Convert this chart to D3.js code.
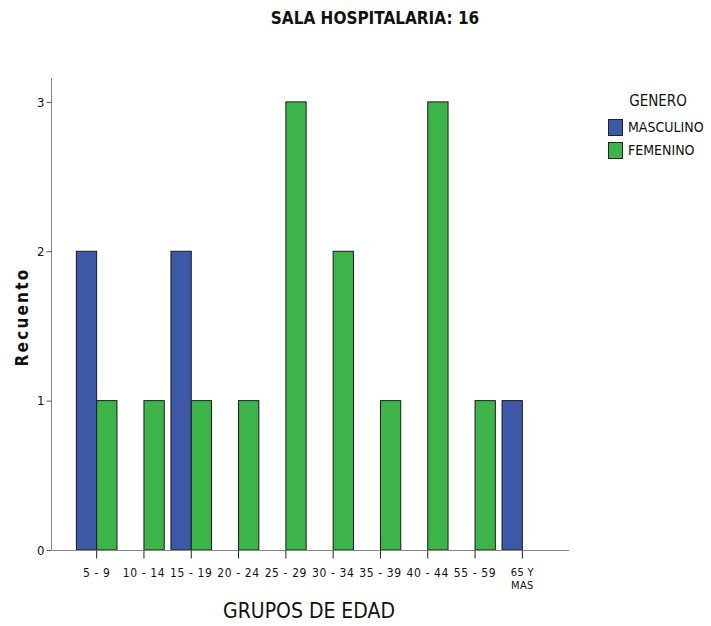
<!DOCTYPE html>
<html>
<head>
<meta charset="utf-8">
<script src="https://cdn.jsdelivr.net/npm/d3@7"></script>
<style>
  html, body { margin: 0; padding: 0; background: #fff; }
  svg { display: block; }
  text { font-family: "DejaVu Sans Condensed", "DejaVu Sans", sans-serif; fill: #111; }
</style>
</head>
<body>
<svg id="chart" width="711" height="626"></svg>
<script>
// Age groups and counts by gender
const categories = ["5 - 9", "10 - 14", "15 - 19", "20 - 24", "25 - 29", "30 - 34", "35 - 39", "40 - 44", "55 - 59", "65 Y MAS"];
const masculino = [2, 0, 2, 0, 0, 0, 0, 0, 0, 1];
const femenino  = [1, 1, 1, 1, 3, 2, 1, 3, 1, 0];
const seriesNames = ["MASCULINO", "FEMENINO"];
const seriesColors = ["#3e58a8", "#3cb44a"];
const yTicks = [0, 1, 2, 3];

const svg = d3.select("#chart");

const x = d3.scaleBand().domain(categories).range([73, 546]).padding(0);
const y = d3.scaleLinear().domain([0, 3.16]).range([550, 78]);
const barW = 20.3;

// Bars: masculino to the left of the category centre, femenino to the right
const rows = categories.map((c, i) => ({ c, m: masculino[i], f: femenino[i] }));
const g = svg.append("g");
rows.forEach(r => {
  const cx = x(r.c) + x.bandwidth() / 2;
  if (r.m > 0) {
    g.append("rect")
      .attr("x", cx - barW).attr("y", y(r.m))
      .attr("width", barW).attr("height", y(0) - y(r.m))
      .attr("fill", seriesColors[0]).attr("stroke", "#1a1a1a").attr("stroke-width", 1);
  }
  if (r.f > 0) {
    g.append("rect")
      .attr("x", cx).attr("y", y(r.f))
      .attr("width", barW).attr("height", y(0) - y(r.f))
      .attr("fill", seriesColors[1]).attr("stroke", "#1a1a1a").attr("stroke-width", 1);
  }
});

// Y axis
const yAxis = svg.append("g").attr("transform", "translate(51.5,0)")
  .call(d3.axisLeft(y).tickValues(yTicks).tickFormat(d3.format("d")).tickSize(5).tickPadding(2));
yAxis.select(".domain").attr("stroke", "#888").attr("d", `M0,${y(0)}V${y(3.16)}`);
yAxis.selectAll(".tick line").attr("stroke", "#555");
yAxis.selectAll(".tick text").attr("font-size", 13).attr("fill", "#333")
  .attr("font-family", "DejaVu Sans Condensed, DejaVu Sans, sans-serif");

// X axis
const xAxis = svg.append("g").attr("transform", `translate(0,${y(0) + 0.5})`)
  .call(d3.axisBottom(x).tickSize(8).tickSizeOuter(0).tickFormat(""));
xAxis.select(".domain").attr("stroke", "#888").attr("d", "M51.5,0H569");
xAxis.selectAll(".tick line").attr("stroke", "#222");
xAxis.selectAll(".tick").each(function(d) {
  const t = d3.select(this).append("text")
    .attr("fill", "#111").attr("text-anchor", "middle")
    .attr("font-family", "DejaVu Sans Condensed, DejaVu Sans, sans-serif");
  if (d === "65 Y MAS") {
    t.attr("font-size", 11).attr("letter-spacing", 0.3);
    t.append("tspan").attr("x", 0).attr("y", 25).text("65 Y");
    t.append("tspan").attr("x", 0).attr("y", 38).text("MAS");
  } else {
    t.attr("font-size", 12).attr("letter-spacing", 0.6).attr("y", 26).text(d);
  }
});

// Axis titles
svg.append("text").attr("x", 309).attr("y", 618).attr("text-anchor", "middle")
  .attr("font-size", 21).attr("fill", "#222").text("GRUPOS DE EDAD");
svg.append("text").attr("transform", "translate(28,317) rotate(-90)")
  .attr("text-anchor", "middle").attr("font-size", 17).attr("font-weight", "bold")
  .attr("letter-spacing", 2.2).attr("font-family", "DejaVu Sans, sans-serif")
  .text("Recuento");

// Title
svg.append("text").attr("x", 375).attr("y", 24).attr("text-anchor", "middle")
  .attr("font-size", 17).attr("font-weight", "bold").attr("fill", "#222")
  .text("SALA HOSPITALARIA: 16");

// Legend
svg.append("text").attr("x", 658).attr("y", 106).attr("text-anchor", "middle")
  .attr("font-size", 15).attr("fill", "#333").text("GENERO");
seriesNames.forEach((name, i) => {
  const ly = 119 + i * 23;
  svg.append("rect").attr("x", 608.5).attr("y", ly + 0.5).attr("width", 14).attr("height", 16)
    .attr("fill", seriesColors[i]).attr("stroke", "#222").attr("stroke-width", 1);
  svg.append("text").attr("x", 628).attr("y", ly + 13).attr("font-size", 14).text(name);
});
</script>
</body>
</html>
